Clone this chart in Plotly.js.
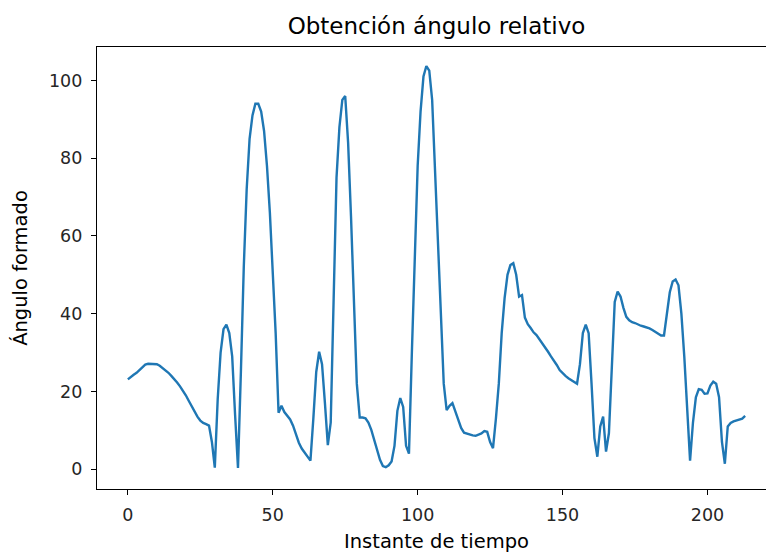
<!DOCTYPE html>
<html>
<head>
<meta charset="utf-8">
<script src="https://cdn.plot.ly/plotly-3.0.1.min.js"></script>
<style>
  html, body { margin: 0; padding: 0; overflow: hidden; background: #fff; }
  #chart { width: 800px; height: 554px; }
</style>
</head>
<body>
<div id="chart"></div>
<script>
const chartTitle = "Obtención ángulo relativo";
const xLabel = "Instante de tiempo";
const yLabel = "Ángulo formado";
const xTicks = [0, 50, 100, 150, 200];
const yTicks = [0, 20, 40, 60, 80, 100];

const angle = [
  23.1, 23.8, 24.3, 24.8, 25.5, 26.3, 26.9, 27.1, 27.1, 27.1,
  27.0, 26.6, 26.0, 25.5, 24.8, 24.0, 23.2, 22.3, 21.3, 20.2,
  19.0, 17.6, 16.1, 14.7, 13.5, 12.5, 11.9, 11.6, 11.2, 7.0,
  0.4, 18.0, 30.0, 36.0, 37.2, 35.0, 29.0, 14.0, 0.3, 25.0,
  52.0, 72.0, 85.0, 91.0, 94.0, 94.0, 92.0, 87.0, 78.0, 66.0,
  52.0, 35.0, 14.5, 16.3, 14.7, 13.8, 12.8, 11.2, 9.0, 6.8,
  5.3, 4.2, 3.0, 2.2, 13.0, 25.0, 30.2, 27.0, 17.0, 6.2,
  12.0, 45.0, 75.0, 88.0, 95.0, 96.0, 84.0, 65.0, 42.0, 22.0,
  13.3, 13.3, 13.1, 12.0, 10.1, 7.5, 4.8, 2.4, 0.8, 0.5,
  1.0, 2.0, 6.0, 15.0, 18.3, 16.0, 6.0, 4.0, 30.0, 55.0,
  78.0, 92.0, 101.0, 103.7, 102.5, 95.0, 77.0, 59.0, 38.0, 22.0,
  15.2, 16.3, 17.0, 14.8, 12.5, 10.6, 9.4, 9.1, 8.9, 8.7,
  8.6, 8.8, 9.2, 9.8, 9.6, 7.0, 5.4, 13.0, 22.0, 35.0,
  44.0, 50.0, 52.5, 53.0, 50.0, 44.4, 44.8, 39.0, 37.3, 36.3,
  35.2, 34.5, 33.5, 32.2, 31.2, 30.2, 29.0, 28.0, 26.8, 25.5,
  24.6, 24.0, 23.4, 22.9, 22.4, 22.0, 27.0, 35.0, 37.2, 35.0,
  22.0, 8.0, 3.2, 11.0, 13.5, 4.5, 9.3, 25.0, 43.0, 45.7,
  44.4, 41.5, 39.2, 38.3, 37.8, 37.6, 37.2, 36.9, 36.7, 36.5,
  36.2, 35.8, 35.3, 34.9, 34.4, 34.4, 39.5, 45.5, 48.3, 48.8,
  47.3, 40.0, 29.0, 14.0, 2.2, 12.0, 18.5, 20.6, 20.4, 19.4,
  19.5, 21.5, 22.5, 22.0, 18.5, 7.0, 1.4, 11.0, 11.9, 12.3,
  12.5, 12.7, 13.0, 13.7
];
const instants = angle.map((_, i) => i);

const font = "DejaVu Sans, sans-serif";
const axisCommon = {
  showgrid: false,
  zeroline: false,
  showline: true,
  mirror: true,
  linecolor: "#000",
  linewidth: 1.1,
  ticks: "outside",
  ticklen: 5,
  tickwidth: 1.1,
  tickcolor: "#000",
  ticklabelstandoff: 5,
  tickfont: { family: font, size: 17.5, color: "#262626" }
};

const trace = {
  x: instants,
  y: angle,
  type: "scatter",
  mode: "lines",
  line: { color: "#1f77b4", width: 2.4 },
  hoverinfo: "x+y"
};

const layout = {
  width: 800,
  height: 554,
  margin: { l: 97, r: 24, t: 47, b: 65 },
  paper_bgcolor: "#fff",
  plot_bgcolor: "#fff",
  showlegend: false,
  title: {
    text: chartTitle,
    font: { family: font, size: 23, color: "#000" },
    x: 0.5, xref: "paper", xanchor: "center",
    y: 1 - 26 / 554, yref: "container", yanchor: "middle"
  },
  xaxis: Object.assign({}, axisCommon, {
    range: [-10.65, 223.65],
    tickvals: xTicks,
    ticktext: xTicks.map(String),
    title: { text: xLabel, font: { family: font, size: 19.5, color: "#000" }, standoff: 10 }
  }),
  yaxis: Object.assign({}, axisCommon, {
    range: [-5.1, 108.6],
    tickvals: yTicks,
    ticktext: yTicks.map(String),
    title: { text: yLabel, font: { family: font, size: 19.5, color: "#000" }, standoff: 16 }
  })
};

Plotly.newPlot("chart", [trace], layout, { displayModeBar: false, staticPlot: true });
</script>
</body>
</html>
